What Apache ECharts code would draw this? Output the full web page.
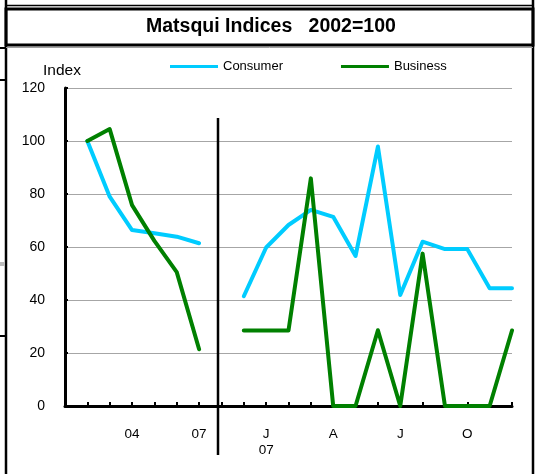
<!DOCTYPE html>
<html>
<head>
<meta charset="utf-8">
<script src="https://cdn.jsdelivr.net/npm/echarts@6/dist/echarts.min.js"></script>
<style>
html,body{margin:0;padding:0;background:#fff;}
#chart{width:535px;height:474px;}
</style>
</head>
<body>
<div id="chart"></div>
<script>
var categories = ['2001','2002','2003','2004','2005','2006','2007','gap',
  'Dec 06','Jan 07','Feb 07','Mar 07','Apr 07','May 07','Jun 07','Jul 07','Aug 07','Sep 07','Oct 07','Nov 07','Dec 07'];
var tickLabels = ['','','','04','','','07','','','J\n07','','','A','','','J','','','O','',''];
var consumer = [null,100,79,66.4,65.2,63.9,61.4,null,
  41.4,59.8,68.3,74,71.4,56.6,97.9,41.9,62,59.2,59.2,44.4,44.4];
var business = [null,100,104.5,75.8,62.3,50.5,21.4,null,
  28.5,28.5,28.5,85.9,0,0,28.6,0,57.5,0,0,0,28.5];
var yTicks = [0,20,40,60,80,100,120];

var chart = echarts.init(document.getElementById('chart'), null, {renderer:'canvas'});
var font = 'Liberation Sans, Arial, sans-serif';
chart.setOption({
  animation:false,
  backgroundColor:'#fff',
  grid:{left:65,right:23,top:88,bottom:68,containLabel:false},
  legend:{
    data:['Consumer','Business'],
    left:165, top:55,
    icon:'rect', itemWidth:48, itemHeight:3, itemGap:58,
    textStyle:{fontFamily:font,fontSize:13,color:'#000'}
  },
  xAxis:{
    type:'category', data:categories, boundaryGap:false,
    axisLine:{lineStyle:{color:'#000',width:3}},
    axisTick:{show:true,inside:true,length:4,interval:0,lineStyle:{color:'#000',width:2}},
    axisLabel:{interval:0,margin:20,lineHeight:16,fontFamily:font,fontSize:13.5,color:'#000',
      formatter:function(v,i){return tickLabels[i];}},
    splitLine:{show:false}
  },
  yAxis:{
    type:'value', min:yTicks[0], max:yTicks[yTicks.length-1], interval:20,
    axisLine:{show:true,lineStyle:{color:'#000',width:3}},
    axisTick:{show:true,inside:true,length:3,lineStyle:{color:'#000',width:2}},
    axisLabel:{margin:20,fontFamily:font,fontSize:14,color:'#000'},
    splitLine:{show:true,lineStyle:{color:'#A6A6A6',width:1}}
  },
  series:[
    {name:'Consumer',type:'line',data:consumer,showSymbol:false,symbol:'none',
     itemStyle:{color:'#00CCFF'},lineStyle:{color:'#00CCFF',width:4,cap:'round',join:'round'},z:3},
    {name:'Business',type:'line',data:business,showSymbol:false,symbol:'none',
     itemStyle:{color:'#008000'},lineStyle:{color:'#008000',width:4,cap:'round',join:'round'},z:4}
  ],
  graphic:[
    {type:'line',shape:{x1:6,y1:0,x2:6,y2:474},style:{stroke:'#000',lineWidth:2.5},z:10},
    {type:'line',shape:{x1:533,y1:0,x2:533,y2:474},style:{stroke:'#000',lineWidth:2.5},z:10},
    {type:'line',shape:{x1:6,y1:5.5,x2:533,y2:5.5},style:{stroke:'#000',lineWidth:1.5},z:10},
    {type:'rect',shape:{x:6,y:9,width:527,height:36},style:{fill:'none',stroke:'#000',lineWidth:3},z:10},
    {type:'line',shape:{x1:6,y1:47.5,x2:533,y2:47.5},style:{stroke:'#A0A0A0',lineWidth:1},z:10},
    {type:'line',shape:{x1:0,y1:48,x2:6,y2:48},style:{stroke:'#000',lineWidth:2},z:10},
    {type:'line',shape:{x1:0,y1:80,x2:6,y2:80},style:{stroke:'#000',lineWidth:2},z:10},
    {type:'line',shape:{x1:0,y1:336,x2:6,y2:336},style:{stroke:'#000',lineWidth:2},z:10},
    {type:'rect',shape:{x:0,y:262,width:5,height:4},style:{fill:'#BBBBBB'},z:10},
    {type:'text',left:146,top:17,style:{text:'Matsqui Indices   2002=100',fontFamily:font,fontSize:19.5,fontWeight:'bold',fill:'#000'},z:11},
    {type:'text',left:43,top:63,style:{text:'Index',fontFamily:font,fontSize:15.5,fill:'#000'},z:11},
    {type:'line',shape:{x1:218,y1:118,x2:218,y2:455},style:{stroke:'#000',lineWidth:2.5},z:12}
  ]
});
</script>
</body>
</html>
